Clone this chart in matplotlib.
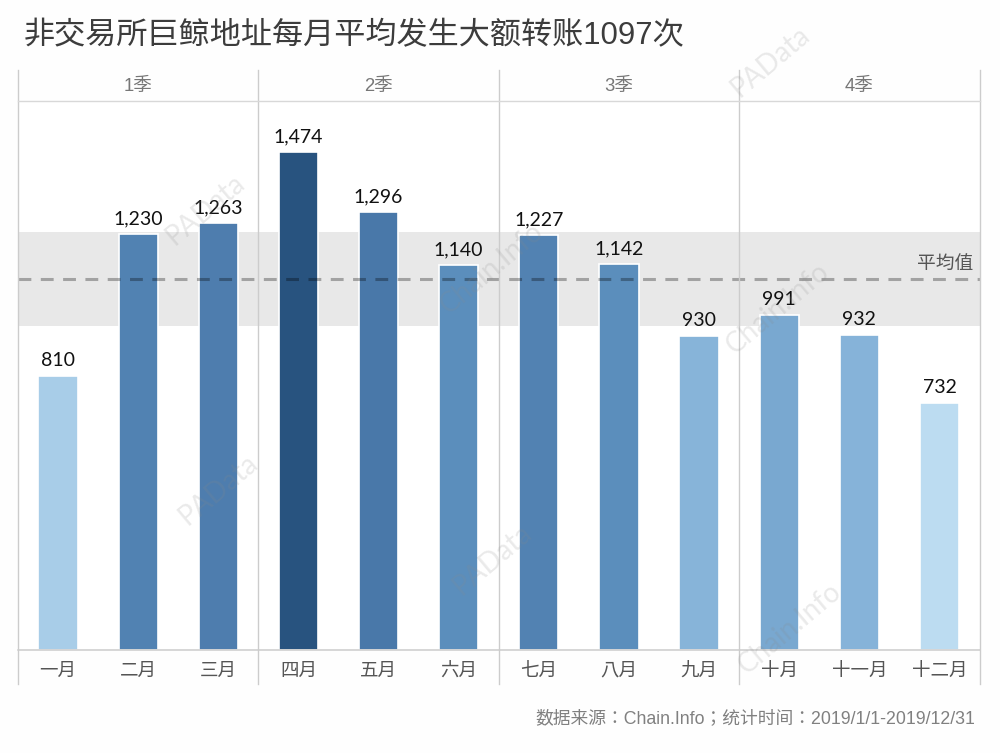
import matplotlib
matplotlib.use("Agg")
import matplotlib.pyplot as plt
from matplotlib.colors import LinearSegmentedColormap, Normalize

# matplotlib only registers the first face of the CJK .ttc, which is the JP name
plt.rcParams["font.family"] = ["Liberation Sans", "Noto Sans CJK JP"]

months = ["一月", "二月", "三月", "四月", "五月", "六月", "七月", "八月", "九月", "十月", "十一月", "十二月"]
transfers = [810, 1230, 1263, 1474, 1296, 1140, 1227, 1142, 930, 991, 932, 732]
quarters = ["1季", "2季", "3季", "4季"]
average = 1097
band_low = 959
band_high = 1237

title = "非交易所巨鲸地址每月平均发生大额转账1097次"
source = "数据来源：Chain.Info；统计时间：2019/1/1-2019/12/31"

W, H = 1000, 753
fig = plt.figure(figsize=(W / 100, H / 100), dpi=100, facecolor="#fefefe")

left, right, top, bottom = 18, 979.5, 101, 650
ax = fig.add_axes([left / W, 1 - bottom / H, (right - left) / W, (bottom - top) / H])
ax.set_xlim(-0.5, 11.5)
ax.set_ylim(0, 1625)

cmap = LinearSegmentedColormap.from_list(
    "blues", ["#bcdcf1", "#8ab6db", "#5f93c0", "#4b7aab", "#28537f"]
)
norm = Normalize(732, 1474)

ax.axhspan(band_low, band_high, color="#e8e8e8", lw=0, zorder=1)
ax.bar(range(12), transfers, width=0.49, color=cmap(norm(transfers)),
       edgecolor="white", linewidth=1.2, zorder=2)
ax.axhline(average, color="black", alpha=0.3, lw=2.2, dashes=(4.2, 3.1), zorder=3)

for i, v in enumerate(transfers):
    ax.annotate(f"{v:,}", (i, v), xytext=(0, 5), textcoords="offset points",
                ha="center", va="bottom", fontsize=14, color="#111111", family="Lato", zorder=5)

ax.text(11.42, average + 18, "平均值", ha="right", va="bottom", fontsize=13.5, color="#555555", zorder=5)

ax.set_xticks(range(12))
ax.set_xticklabels(months, fontsize=13.3, color="#555555")
ax.tick_params(axis="x", length=0, pad=9)
ax.set_yticks([])
for s in ["top", "left", "right"]:
    ax.spines[s].set_visible(False)
ax.spines["bottom"].set_color("#cccccc")
ax.spines["bottom"].set_linewidth(1.1)

# quarter header and separators run past the axes
for k in range(5):
    ax.plot([k * 3 - 0.5] * 2, [-0.062, 1.057], transform=ax.get_xaxis_transform(),
            color="#cccccc", lw=1.0, clip_on=False, zorder=4)
ax.plot([-0.5, 11.5], [1, 1], transform=ax.get_xaxis_transform(),
        color="#d8d8d8", lw=1.0, clip_on=False, zorder=4)
for k, q in enumerate(quarters):
    ax.text(k * 3 + 1, 1.027, q, transform=ax.get_xaxis_transform(), ha="center", va="center",
            fontsize=13.3, color="#777777")

fig.text(24 / W, 1 - 36 / H, title, fontsize=22.4, color="#3c3c3c", ha="left", va="center")
fig.text(975 / W, 1 - 719 / H, source, fontsize=12.8, color="#808080", ha="right", va="center")

# faint watermarks
marks = [("PAData", 205, 210), ("PAData", 218, 490), ("PAData", 492, 560), ("PAData", 770, 62),
         ("Chain.Info", 492, 268), ("Chain.Info", 778, 308), ("Chain.Info", 790, 628)]
for word, x, y in marks:
    fig.text(x / W, 1 - y / H, word, fontsize=20, color="#8a8a8a", alpha=0.18, rotation=40,
             family="Lato", ha="center", va="center", zorder=10)

fig.savefig("out.png", dpi=100, facecolor=fig.get_facecolor())
